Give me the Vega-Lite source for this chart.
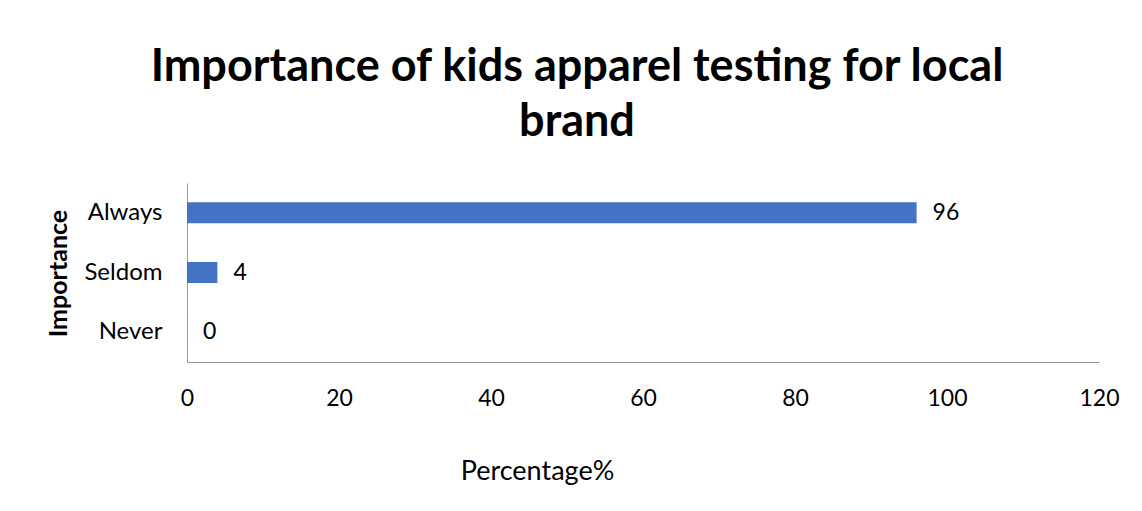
{
  "$schema": "https://vega.github.io/schema/vega-lite/v6.json",
  "autosize": {"type": "none"},
  "padding": {"left": 187, "top": 183, "right": 43, "bottom": 149},
  "width": 912,
  "height": 179,
  "background": "white",
  "config": {
    "font": "Lato",
    "view": {"stroke": null}
  },
  "title": {
    "text": ["Importance of kids apparel testing for local", "brand"],
    "font": "Lato",
    "fontSize": 45,
    "fontWeight": "bold",
    "color": "#000000",
    "anchor": "middle",
    "frame": "group",
    "dx": -66,
    "offset": 38,
    "lineHeight": 55
  },
  "data": {
    "values": [
      {"importance": "Always", "percentage": 96},
      {"importance": "Seldom", "percentage": 4},
      {"importance": "Never", "percentage": 0}
    ]
  },
  "encoding": {
    "y": {
      "field": "importance",
      "type": "nominal",
      "sort": ["Always", "Seldom", "Never"],
      "scale": {"paddingInner": 0, "paddingOuter": 0},
      "axis": {
        "title": "Importance",
        "titleFont": "Lato",
        "titleFontSize": 25,
        "titleFontWeight": "bold",
        "titleColor": "#000000",
        "titleAngle": -90,
        "titleX": -129,
        "titleY": 90,
        "titleAlign": "center",
        "titleBaseline": "middle",
        "labelFont": "Lato",
        "labelFontSize": 24,
        "labelColor": "#000000",
        "labelPadding": 25,
        "ticks": false,
        "tickSize": 0,
        "domainColor": "#999999",
        "grid": false
      }
    },
    "x": {
      "field": "percentage",
      "type": "quantitative",
      "scale": {"domain": [0, 120], "nice": false},
      "axis": {
        "title": "Percentage%",
        "titleFont": "Lato",
        "titleFontSize": 27,
        "titleFontWeight": "normal",
        "titleColor": "#000000",
        "titleX": 350,
        "titleY": 109,
        "titleAlign": "center",
        "titleBaseline": "middle",
        "values": [0, 20, 40, 60, 80, 100, 120],
        "labelFont": "Lato",
        "labelFontSize": 23,
        "labelColor": "#000000",
        "labelBaseline": "middle",
        "labelPadding": 36,
        "labelFlush": false,
        "ticks": false,
        "tickSize": 0,
        "domainColor": "#999999",
        "grid": false
      }
    }
  },
  "layer": [
    {
      "mark": {"type": "bar", "color": "#4472C4", "size": 21}
    },
    {
      "mark": {"type": "text", "align": "left", "baseline": "middle", "dx": 16, "fontSize": 23, "font": "Lato", "color": "#000000"},
      "encoding": {"text": {"field": "percentage", "type": "quantitative"}}
    }
  ]
}
